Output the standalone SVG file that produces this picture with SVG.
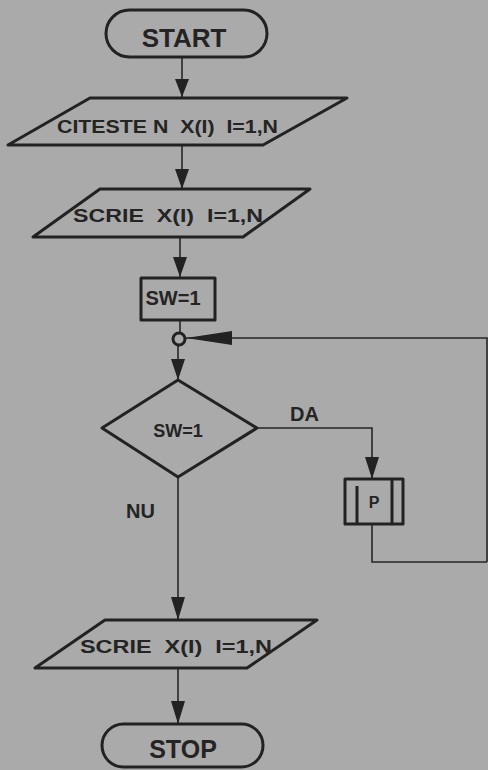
<svg xmlns="http://www.w3.org/2000/svg" width="488" height="770" viewBox="0 0 488 770">
<style>
.shape{fill:none;stroke:#222;stroke-width:3;stroke-linejoin:round}
.line{fill:none;stroke:#262626;stroke-width:1.6}
.head{fill:#222}
.t{font-family:"Liberation Sans",Arial,sans-serif;font-weight:bold;fill:#242424}
</style>
<rect width="488" height="770" fill="#aaaaaa"/>
<g id="connectors">
<line class="line" x1="182" y1="57" x2="182" y2="97"/>
<polygon class="head" points="175,79 189,79 182,97"/>
<line class="line" x1="182" y1="145" x2="182" y2="189"/>
<polygon class="head" points="175,169 189,169 182,189"/>
<line class="line" x1="180" y1="237" x2="180" y2="277"/>
<polygon class="head" points="173,257 187,257 180,277"/>
<line class="line" x1="180" y1="320" x2="180" y2="333"/>
<line class="line" x1="178" y1="345" x2="178" y2="380"/>
<polygon class="head" points="171,359 185,359 178,380"/>
<polyline class="line" points="487,562 487,338 186,338"/>
<polygon class="head" points="186,338 232,331 232,345"/>
<polyline class="line" points="257,428 372,428 372,478"/>
<polygon class="head" points="365,457 379,457 372,479"/>
<polyline class="line" points="372,524 372,562 487,562"/>
<line class="line" x1="178" y1="477" x2="178" y2="620"/>
<polygon class="head" points="171,597 185,597 178,620"/>
<line class="line" x1="178" y1="668" x2="178" y2="724"/>
<polygon class="head" points="171,701 185,701 178,724"/>
<text class="t" x="290" y="421" font-size="20">DA</text>
<text class="t" x="126" y="518" font-size="20">NU</text>
</g>
<g id="start">
<rect class="shape" x="106" y="10" width="161" height="47" rx="23.5"/>
<text class="t" x="184" y="47" font-size="26" text-anchor="middle">START</text>
</g>
<g id="read">
<polygon class="shape" points="90,98 347,98 263,145 8,145"/>
<text class="t" x="57" y="133" font-size="18" textLength="221" lengthAdjust="spacingAndGlyphs" xml:space="preserve">CITESTE N  X(I)  I=1,N</text>
</g>
<g id="write1">
<polygon class="shape" points="100,189 310,189 243,237 33,237"/>
<text class="t" x="73" y="222" font-size="18" textLength="190" lengthAdjust="spacingAndGlyphs" xml:space="preserve">SCRIE  X(I)  I=1,N</text>
</g>
<g id="assign">
<rect class="shape" x="141" y="278" width="74" height="42"/>
<text class="t" x="173" y="305" font-size="20" text-anchor="middle">SW=1</text>
</g>
<g id="junction">
<circle class="shape" cx="179" cy="339" r="6" stroke-width="2.5"/>
</g>
<g id="decision">
<polygon class="shape" points="178,380 257,428 178,477 102,428"/>
<text class="t" x="178" y="437" font-size="18" text-anchor="middle">SW=1</text>
</g>
<g id="proc">
<rect class="shape" x="345" y="479" width="58" height="45"/>
<line class="shape" x1="357" y1="486" x2="357" y2="524"/>
<line class="shape" x1="392" y1="479" x2="392" y2="524"/>
<text class="t" x="374" y="508" font-size="16" text-anchor="middle">P</text>
</g>
<g id="write2">
<polygon class="shape" points="105,620 317,620 247,668 35,668"/>
<text class="t" x="80" y="653" font-size="18" textLength="192" lengthAdjust="spacingAndGlyphs" xml:space="preserve">SCRIE  X(I)  I=1,N</text>
</g>
<g id="stop">
<rect class="shape" x="102" y="724" width="161" height="43" rx="21.5"/>
<text class="t" x="183" y="758" font-size="25" text-anchor="middle">STOP</text>
</g>
</svg>
